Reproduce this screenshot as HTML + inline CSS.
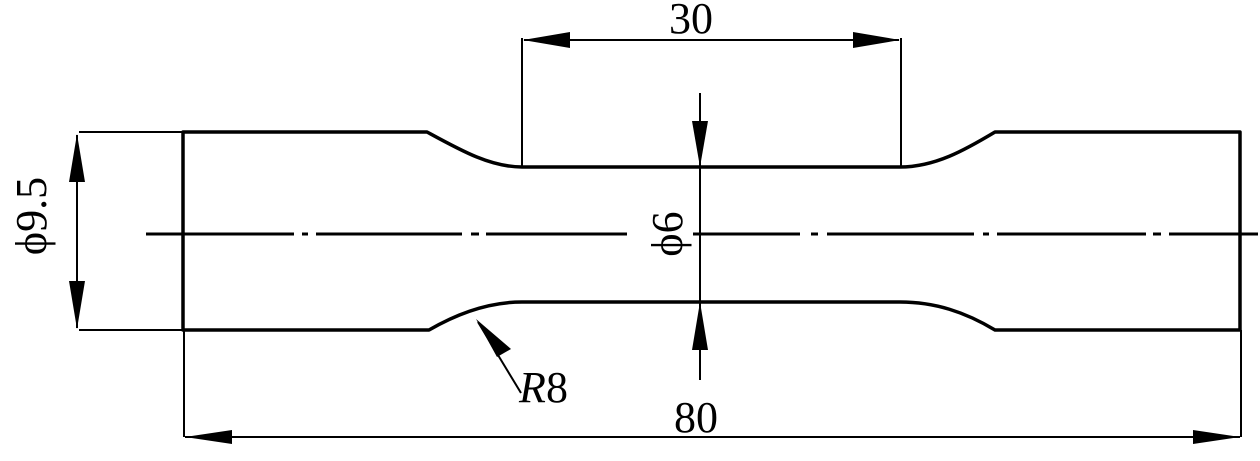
<!DOCTYPE html>
<html><head><meta charset="utf-8"><style>
html,body{margin:0;padding:0;background:#fff;}
svg{display:block;}
text{font-family:"Liberation Serif","DejaVu Serif",serif;fill:#000;}
</style></head><body>
<svg width="1260" height="461" viewBox="0 0 1260 461" xmlns="http://www.w3.org/2000/svg">
<g fill="none" stroke="#000" stroke-width="3.5" stroke-linejoin="round">
  <!-- outline -->
  <path d="M183,132 H427 C460,150 490,167 522,167 H900 C935,167 965,150 995,132 H1240 V330 H995 C965,312 935,302 900,302 H522 C490,302 460,312 429,330 H183 Z"/>
</g>
<!-- centerline -->
<g stroke="#000" stroke-width="3">
  <line x1="146" y1="234" x2="294" y2="234"/>
  <line x1="302" y1="234" x2="308" y2="234"/>
  <line x1="316" y1="234" x2="462" y2="234"/>
  <line x1="471" y1="234" x2="479" y2="234"/>
  <line x1="486" y1="234" x2="627" y2="234"/>
  <line x1="693" y1="234" x2="800" y2="234"/>
  <line x1="811" y1="234" x2="818" y2="234"/>
  <line x1="827" y1="234" x2="974" y2="234"/>
  <line x1="983" y1="234" x2="989" y2="234"/>
  <line x1="997" y1="234" x2="1146" y2="234"/>
  <line x1="1153" y1="234" x2="1161" y2="234"/>
  <line x1="1169" y1="234" x2="1258" y2="234"/>
</g>
<!-- thin dimension lines -->
<g stroke="#000" stroke-width="2" fill="none">
  <!-- 9.5 -->
  <line x1="79" y1="132" x2="183" y2="132"/>
  <line x1="79" y1="330" x2="183" y2="330"/>
  <line x1="77" y1="135" x2="77" y2="328"/>
  <!-- 30 -->
  <line x1="522" y1="38" x2="522" y2="167"/>
  <line x1="901" y1="38" x2="901" y2="167"/>
  <line x1="524" y1="40" x2="899" y2="40"/>
  <!-- phi6 -->
  <line x1="700" y1="93" x2="700" y2="380"/>
  <!-- 80 -->
  <line x1="184" y1="330" x2="184" y2="437"/>
  <line x1="1241" y1="330" x2="1241" y2="437"/>
  <line x1="185" y1="437" x2="1240" y2="437"/>
  <!-- R8 leader -->
  <line x1="521" y1="393" x2="478" y2="322"/>
</g>
<!-- arrowheads -->
<g fill="#000">
  <polygon points="77,134 69,182 85,182"/>
  <polygon points="77,329 69,281 85,281"/>
  <polygon points="523,40 570,32 570,48"/>
  <polygon points="900,40 853,32 853,48"/>
  <polygon points="700,167 692,121 708,121"/>
  <polygon points="700,302 692,350 708,350"/>
  <polygon points="185,437 232,430 232,444"/>
  <polygon points="1240,437 1193,430 1193,444"/>
  <polygon points="476,319 511,349 497,357"/>
</g>
<!-- labels -->
<text x="691" y="33" font-size="44" text-anchor="middle">30</text>
<text x="696" y="432" font-size="44" text-anchor="middle">80</text>
<text x="519" y="402" font-size="44" font-style="italic">R</text>
<text x="546" y="402" font-size="44">8</text>
<text transform="translate(682,234) rotate(-90)" font-size="44" text-anchor="middle">ϕ6</text>
<text transform="translate(46,216) rotate(-90)" font-size="44" text-anchor="middle">ϕ9.5</text>
</svg>
</body></html>
